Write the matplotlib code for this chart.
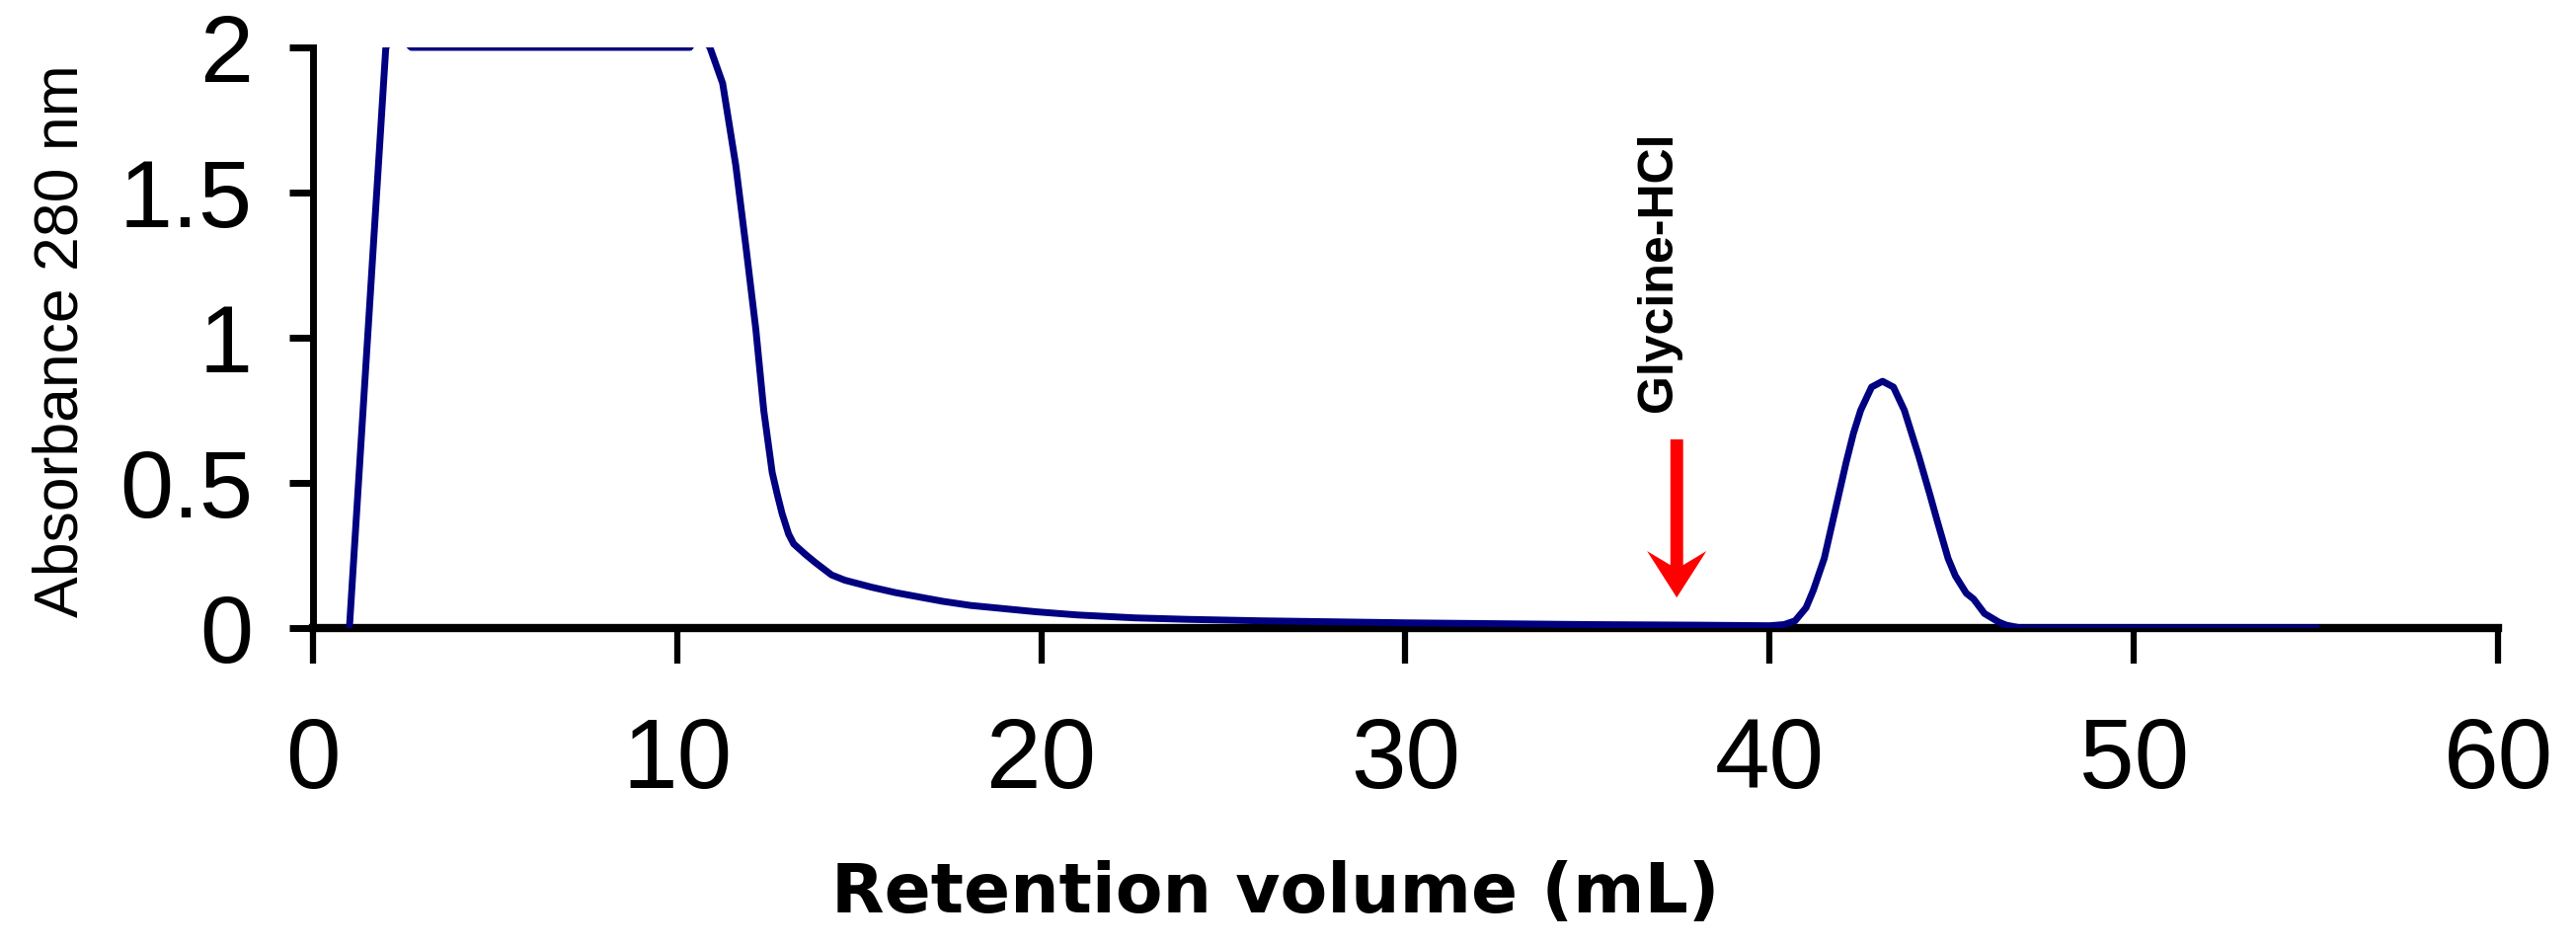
import matplotlib
matplotlib.use('Agg')
import matplotlib.pyplot as plt

# chromatogram trace (mL, A280)
volume = [1.0, 1.5, 2.0, 2.3, 2.7, 4.0, 6.0, 8.0, 10.0, 10.35, 10.6, 10.9,
          11.25, 11.61, 11.89, 12.16, 12.38, 12.61, 12.75, 12.88, 13.06,
          13.2, 13.52, 13.8, 14.24, 14.6, 15.33, 16.0, 16.69, 17.3, 18.05,
          19.86, 21.0, 22.58, 24.0, 26.0, 30.0, 35.0, 38.0, 40.0, 40.4,
          40.7, 41.0, 41.2, 41.5, 41.7, 41.9, 42.1, 42.3, 42.5, 42.8, 43.1,
          43.4, 43.7, 43.9, 44.1, 44.4, 44.6, 44.9, 45.1, 45.4, 45.6, 45.9,
          46.3, 46.5, 46.9, 50.0, 55.1]
absorbance = [0.0, 1.0, 2.0, 2.05, 2.0, 2.0, 2.0, 2.0, 2.0, 2.0, 2.05, 2.0,
              1.876, 1.594, 1.312, 1.03, 0.748, 0.536, 0.46, 0.395, 0.324,
              0.29, 0.254, 0.225, 0.183, 0.165, 0.141, 0.122, 0.106, 0.092,
              0.078, 0.056, 0.045, 0.035, 0.03, 0.025, 0.018, 0.012, 0.01,
              0.008, 0.012, 0.025, 0.07, 0.13, 0.24, 0.35, 0.46, 0.57, 0.67,
              0.75, 0.83, 0.85, 0.83, 0.75, 0.67, 0.59, 0.46, 0.37, 0.24,
              0.18, 0.12, 0.10, 0.05, 0.02, 0.01, 0.0, 0.0, 0.0]

x_ticks = [0, 10, 20, 30, 40, 50, 60]
y_ticks = [0, 0.5, 1, 1.5, 2]
y_tick_labels = ['0', '0.5', '1', '1.5', '2']

# elution marker
marker_label = 'Glycine-HCl'
marker_x = 37.45
marker_top = 0.65
marker_tip = 0.105

plt.rcParams['font.family'] = ['Liberation Sans', 'DejaVu Sans']

fig = plt.figure(figsize=(26.09, 9.58), dpi=100)
ax = fig.add_axes([0.1215, 0.3361, 0.8482, 0.6138])

ax.plot(volume, absorbance, color='#000080', lw=5, zorder=3,
        solid_joinstyle='round', solid_capstyle='butt')

ax.set_xlim(0, 60)
ax.set_ylim(0, 2)
ax.set_xticks(x_ticks)
ax.set_xticklabels([str(v) for v in x_ticks])
ax.set_yticks(y_ticks)
ax.set_yticklabels(y_tick_labels)

for side in ['top', 'right']:
    ax.spines[side].set_visible(False)
ax.spines['left'].set_linewidth(5)
ax.spines['bottom'].set_linewidth(6)
ax.tick_params(axis='x', length=26, width=4.5, pad=38, labelsize=72)
ax.tick_params(axis='y', length=17, width=5, pad=27, labelsize=70)

ax.set_ylabel('Absorbance 280 nm', fontsize=45)
ax.yaxis.set_label_coords(-0.102, 0.495)
ax.set_xlabel('Retention volume (mL)', fontsize=50, fontweight='bold',
              family='DejaVu Sans')
ax.xaxis.set_label_coords(0.4406, -0.40)

ax.arrow(marker_x, marker_top, 0, marker_tip - marker_top, width=0.35,
         head_width=1.63, head_length=0.16, length_includes_head=True,
         overhang=0.3, color='red', lw=0, zorder=4)
ax.text(36.95, 0.745, marker_label, rotation=90, ha='center', va='bottom',
        fontsize=36, fontweight='bold')

fig.savefig('out.png', dpi=100)
